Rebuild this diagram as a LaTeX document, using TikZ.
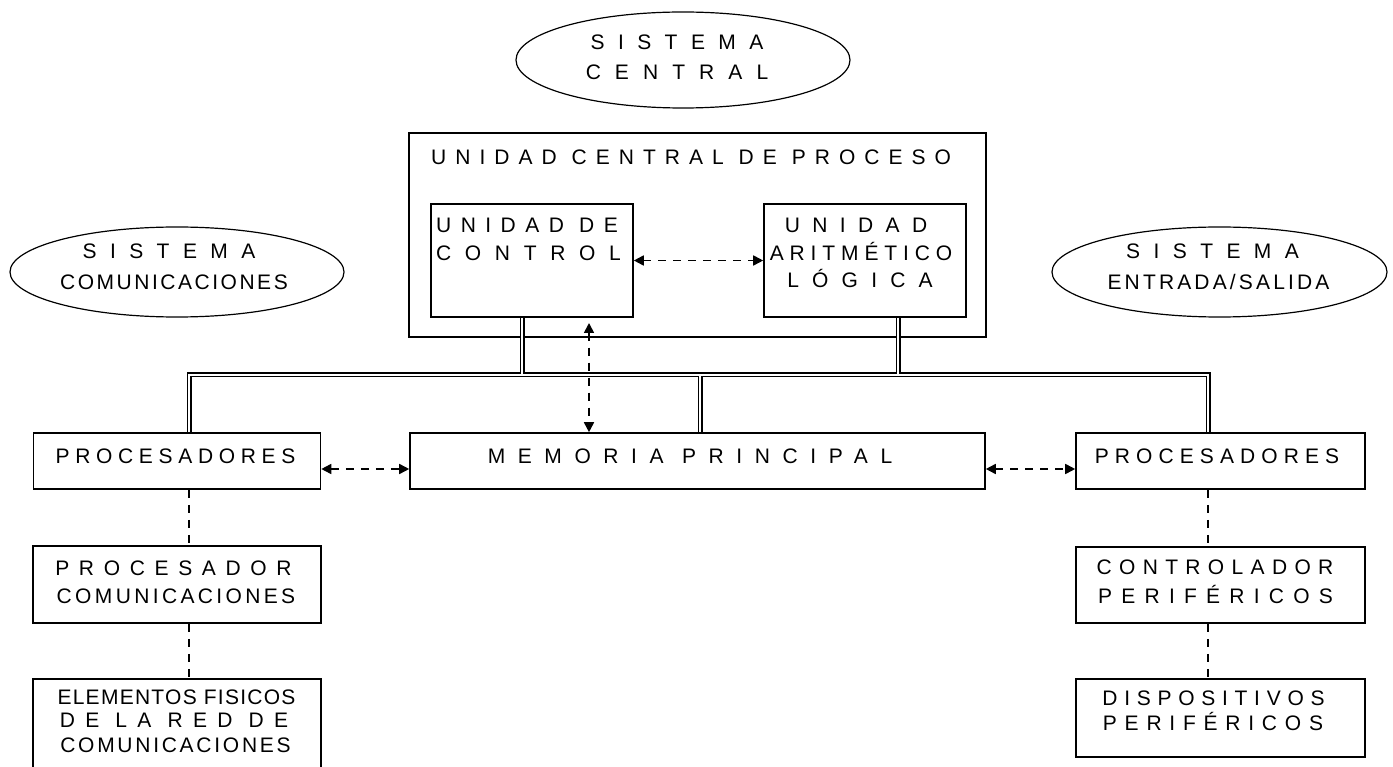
\documentclass[tikz,border=0pt]{standalone}
\usepackage{fontspec}
\setmainfont{Liberation Sans}
\usetikzlibrary{shapes.geometric,arrows.meta,calc}

% letter-spaced text (tracking in percent of the font size)
\newcommand\spc[2]{{\addfontfeature{LetterSpace=#1}#2}}

\tikzset{
  box/.style={draw, line width=1.6pt, rectangle, inner sep=0pt},
  oval/.style={draw, line width=1.2pt, ellipse, inner sep=0pt},
  txt/.style={inner sep=0pt, font=\fontsize{21}{25}\selectfont, text height=15pt, text depth=0pt},
  busout/.style={line width=5pt, black},
  busin/.style={line width=2.4pt, white},
  dasharrow/.style={line width=1.7pt, dash pattern=on 8pt off 7pt, {Triangle[length=10pt,width=10pt]}-{Triangle[length=10pt,width=10pt]}},
  dashline/.style={line width=1.4pt, dash pattern=on 8pt off 7pt}
}

\begin{document}
\begin{tikzpicture}[x=1pt, y=-1pt]
\useasboundingbox (0,0) rectangle (1393,767);
\clip (0,0) rectangle (1393,767);

% ---- system ellipses
\node[oval, minimum width=334pt, minimum height=96pt] (central) at (683,60) {};
\node[txt] (scA) at (677,42) {\spc{64}{SISTEMA}};
\node[txt] (scB) at (677,72) {\spc{67}{CENTRAL}};

\node[oval, minimum width=334pt, minimum height=90pt] (comm) at (177,272) {};
\node[txt] (smA) at (169,251) {\spc{64}{SISTEMA}};
\node[txt] (smB) at (174,282) {\spc{12}{COMUNICACIONES}};

\node[oval, minimum width=335pt, minimum height=90pt] (io) at (1219.5,272) {};
\node[txt] (seA) at (1212.5,251) {\spc{64}{SISTEMA}};
\node[txt] (seB) at (1218.5,282) {\spc{15}{ENTRADA/SALIDA}};

% ---- central processing unit
\node[box, minimum width=577pt, minimum height=204pt] (cpu) at (697.5,235) {};
\node[txt, anchor=west] (cpuT) at (431,157) {\spc{43}{UNIDAD CENTRAL DE PROCESO}};

\node[box, minimum width=202pt, minimum height=113pt] (cu) at (532,260.5) {};
\node[txt, anchor=west] (cuA) at (436,225) {\spc{45}{UNIDAD DE}};
\node[txt, anchor=west] (cuB) at (436,253) {\spc{65}{CONTROL}};

\node[box, minimum width=202pt, minimum height=113pt] (alu) at (865,260.5) {};
\node[txt] (aluA) at (856,225) {\spc{59}{UNIDAD}};
\node[txt] (aluB) at (861,253) {\spc{28}{ARITMÉTICO}};
\node[txt] (aluC) at (860,280) {\spc{63}{LÓGICA}};

% ---- processors and memory
\node[box, minimum width=287pt, minimum height=56pt] (procL) at (177,461) {};
\node[txt] (procLT) at (175.5,456) {\spc{27}{PROCESADORES}};

\node[box, minimum width=575pt, minimum height=56pt] (mem) at (697.5,461) {};
\node[txt] (memT) at (690,456) {\spc{60}{MEMORIA PRINCIPAL}};

\node[box, minimum width=289pt, minimum height=56pt] (procR) at (1220.5,461) {};
\node[txt] (procRT) at (1217,456) {\spc{29}{PROCESADORES}};

% ---- communications branch
\node[box, minimum width=288pt, minimum height=77pt] (pcom) at (177,584.5) {};
\node[txt] (pcomA) at (173.5,568) {\spc{46}{PROCESADOR}};
\node[txt] (pcomB) at (176,596) {\spc{16}{COMUNICACIONES}};

\node[box, minimum width=288pt, minimum height=121pt] (elem) at (177,739.5) {};
\node[txt] (elemA) at (176.5,697) {\spc{6}{ELEMENTOS FISICOS}};
\node[txt] (elemB) at (174,720) {\spc{49}{DE LA RED DE}};
\node[txt] (elemC) at (175.5,745) {\spc{13}{COMUNICACIONES}};

% ---- input/output branch
\node[box, minimum width=289pt, minimum height=76pt] (ctrl) at (1220.5,585) {};
\node[txt] (ctrlA) at (1215,567) {\spc{35}{CONTROLADOR}};
\node[txt] (ctrlB) at (1215.5,596) {\spc{44}{PERIFÉRICOS}};

\node[box, minimum width=289pt, minimum height=78pt] (disp) at (1220.5,718) {};
\node[txt] (dispA) at (1213.5,698) {\spc{32}{DISPOSITIVOS}};
\node[txt] (dispB) at (1213,723) {\spc{37}{PERIFÉRICOS}};

% ---- system bus (double line)
\coordinate (busL) at (189,375);
\coordinate (busR) at (1208,375);
\coordinate (busM) at (700,375);
\coordinate (cuDrop) at (522,375);
\coordinate (aluDrop) at (898,375);
\foreach \s in {busout,busin}{
  \draw[\s] (procL.north -| busL) -- (busL) -- (busR) -- (procR.north -| busR);
  \draw[\s] (cu.south -| cuDrop) -- (cuDrop);
  \draw[\s] (alu.south -| aluDrop) -- (aluDrop);
  \draw[\s] (busM) -- (mem.north -| busM);
}

% ---- dashed links
\coordinate (cuTip) at (589,323);
\draw[dasharrow] (cu.east) -- (alu.west);
\draw[dasharrow] (cuTip) -- (cuTip |- mem.north);
\draw[dasharrow] ([yshift=-8pt]procL.east) -- ([yshift=-8pt]mem.west);
\draw[dasharrow] ([yshift=-8pt]mem.east) -- ([yshift=-8pt]procR.west);

\draw[dashline] (procL.south -| busL) -- (pcom.north -| busL);
\draw[dashline] (pcom.south -| busL) -- (elem.north -| busL);
\draw[dashline] (procR.south -| busR) -- (ctrl.north -| busR);
\draw[dashline] (ctrl.south -| busR) -- (disp.north -| busR);
\end{tikzpicture}
\end{document}
